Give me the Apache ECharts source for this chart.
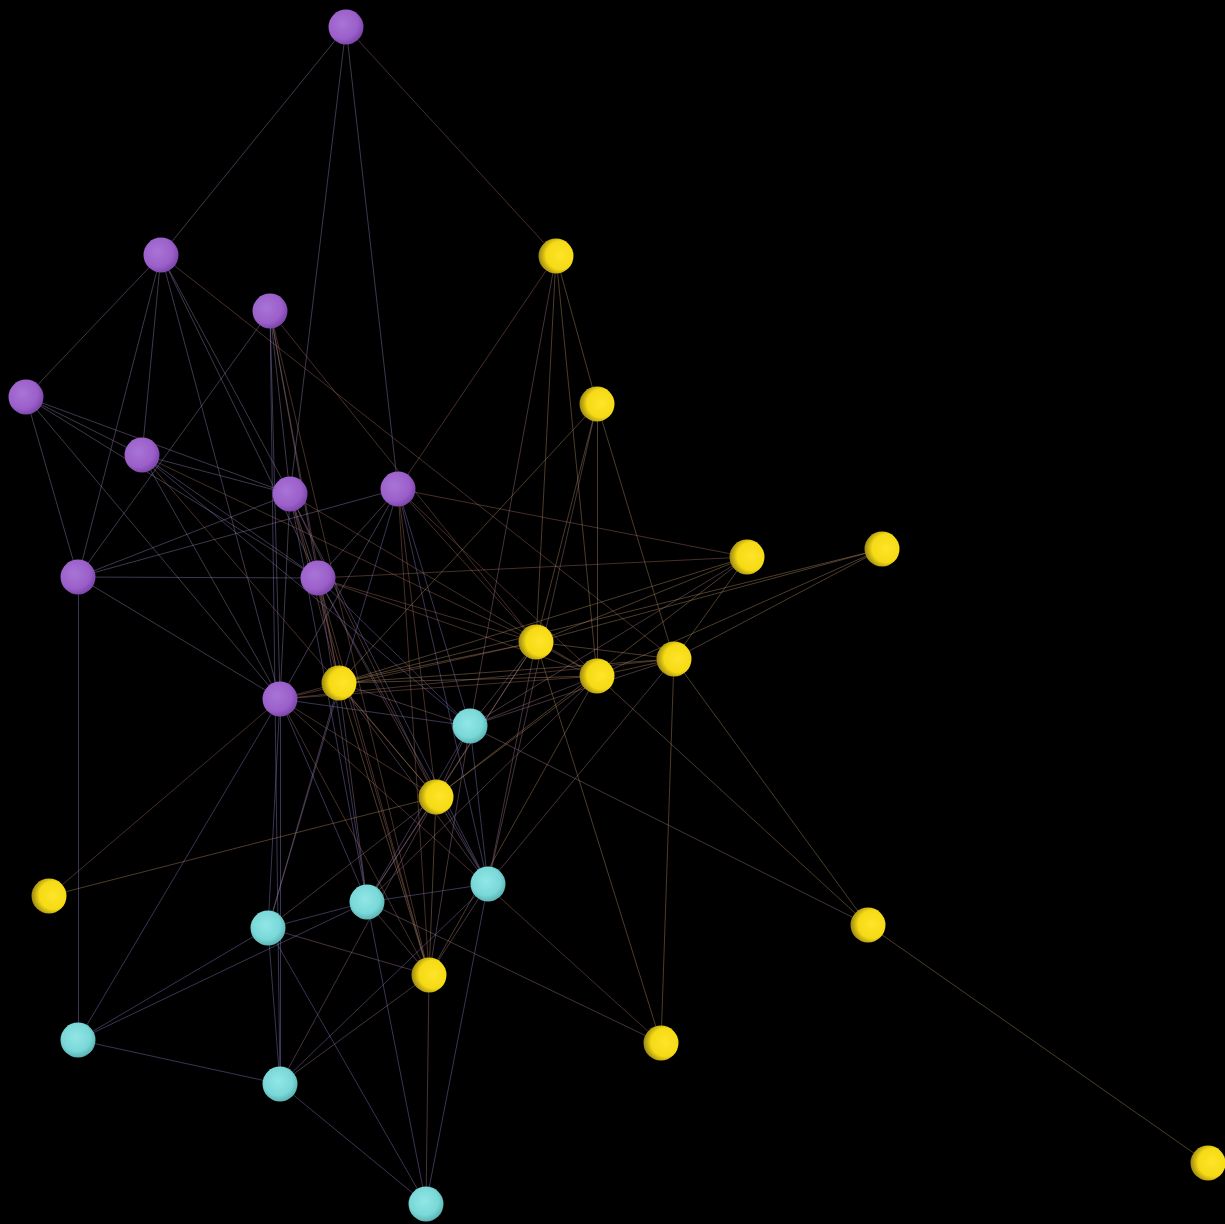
<!DOCTYPE html>
<html><head><meta charset="utf-8">
<script src="https://cdn.jsdelivr.net/npm/echarts@6/dist/echarts.min.js"></script>
<style>html,body{margin:0;padding:0;background:#000}#c{width:1225px;height:1224px}</style>
</head><body><div id="c"></div>
<script>
// Nodes
const nodeNames = ['P1','P2','P3','P4','P5','P6','P7','P8','P9','P10',
  'Y1','Y2','Y3','Y4','Y5','Y6','Y7','Y8','Y9','Y10','Y11','Y12','Y13','Y14',
  'C1','C2','C3','C4','C5','C6','C7'];
const nodeX = [346,161,270,26,142,290,398,78,318,280,
  556,597,747,882,536,597,674,339,436,49,868,429,661,1208,
  470,488,367,268,78,280,426];
const nodeY = [27,255,311,397,455,494,489,577,578,699,
  256,404,557,549,642,676,659,683,797,896,925,975,1043,1163,
  726,884,902,928,1040,1084,1204];
const nodeGroup = ['P','P','P','P','P','P','P','P','P','P',
  'Y','Y','Y','Y','Y','Y','Y','Y','Y','Y','Y','Y','Y','Y',
  'C','C','C','C','C','C','C'];
// Edges
const edges = [
 'P1-P2','P1-P6','P1-P7','P1-Y1',
 'P2-P4','P2-P5','P2-P8','P2-P6','P2-P9','P2-P10','P2-Y7',
 'P3-P8','P3-P6','P3-P9','P3-P10','P3-Y5','P3-Y12','P3-Y8','P3-C6',
 'P4-P8','P4-P5','P4-P6','P4-P9','P4-P10',
 'P5-P6','P5-P9','P5-P10','P5-Y5','P5-C1','P5-Y9',
 'P6-P9','P6-P10','P6-Y8','P6-Y9','P6-C3','P6-C2','P6-Y12','P6-Y6','P6-P8',
 'P7-Y1','P7-P8','P7-P9','P7-P10','P7-Y5','P7-Y6','P7-C1','P7-Y9','P7-C2','P7-Y12','P7-Y3','P7-C4',
 'P8-P9','P8-C5','P8-P10',
 'P9-Y8','P9-Y9','P9-C2','P9-Y12','P9-C3','P9-Y5','P9-Y6','P9-Y3','P9-C1',
 'P10-Y8','P10-Y5','P10-Y6','P10-C1','P10-Y9','P10-C4','P10-C6','P10-C5','P10-Y10','P10-C3','P10-Y12','P10-Y13','P10-Y7',
 'Y1-Y2','Y1-Y5','Y1-Y6','Y1-C1',
 'Y2-Y7','Y2-Y6','Y2-Y5','Y2-Y8','Y2-C2',
 'Y3-Y5','Y3-Y7','Y3-Y8','Y3-C1','Y3-Y9',
 'Y4-Y5','Y4-Y7','Y4-Y6','Y4-Y8',
 'Y5-Y8','Y5-Y6','Y5-C1','Y5-Y9','Y5-C2','Y5-Y13','Y5-C3','Y5-Y7',
 'Y6-Y8','Y6-C1','Y6-Y9','Y6-Y11','Y6-C3','Y6-Y7','Y6-Y12',
 'Y7-Y8','Y7-Y11','Y7-Y13','Y7-C2','Y7-C1',
 'Y8-C1','Y8-Y9','Y8-C3','Y8-Y12','Y8-C4','Y8-C2',
 'Y9-C1','Y9-C3','Y9-Y12','Y9-C2','Y9-Y10','Y9-C4','Y9-C6',
 'Y11-Y14','Y11-C1',
 'Y12-C2','Y12-C4','Y12-C6','Y12-C7','Y12-C3','Y12-C1',
 'C1-C2','C1-C3',
 'C2-C3','C2-C6','C2-C7',
 'C3-C4','C3-C5','C3-C7','C3-Y13',
 'C4-C5','C4-C6','C4-C7',
 'C5-C6','C6-C7'
];

const grad = {
  P: {x:0.4,y:0.4,r:0.62,stops:[['#a874d6',0],['#9b5fc9',0.7],['#7c46ab',1]]},
  Y: {x:0.62,y:0.48,r:0.62,stops:[['#ffe42a',0],['#f5da14',0.65],['#9a8612',1]]},
  C: {x:0.45,y:0.42,r:0.62,stops:[['#92e6e6',0],['#7ad8d8',0.65],['#55acac',1]]}
};
function mkGrad(g){
  return new echarts.graphic.RadialGradient(g.x,g.y,g.r,
    g.stops.map(s=>({offset:s[1],color:s[0]})));
}
const groupOf = {};
nodeNames.forEach((n,i)=>groupOf[n]=nodeGroup[i]);
const nodes = nodeNames.map((n,i)=>({
  name:n, value:[nodeX[i],nodeY[i]],
  itemStyle:{color:mkGrad(grad[nodeGroup[i]])}
}));
function edgeColor(a,b){
  const g=[groupOf[a],groupOf[b]].sort().join('');
  if(g==='CC' || g==='CP') return '#7e76b8';
  if(g==='CY') return '#9a7088';
  if(g==='PP') return '#8c7ca8';
  if(g==='PY') return '#9c6858';
  return '#a8845a';
}
const links = edges.map(e=>{
  const [s,t]=e.split('-');
  return {source:s,target:t,lineStyle:{color:edgeColor(s,t)}};
});

const chart = echarts.init(document.getElementById('c'));
chart.setOption({
  backgroundColor:'#000',
  animation:false,
  grid:{left:0,right:0,top:0,bottom:0},
  xAxis:{type:'value',min:0,max:1225,show:false},
  yAxis:{type:'value',min:0,max:1224,inverse:true,show:false},
  series:[{
    type:'graph',
    coordinateSystem:'cartesian2d',
    symbol:'circle',
    symbolSize:35,
    data:nodes,
    links:links,
    label:{show:false},
    lineStyle:{width:1,opacity:0.45,curveness:0}
  }]
});
</script>
</body></html>
